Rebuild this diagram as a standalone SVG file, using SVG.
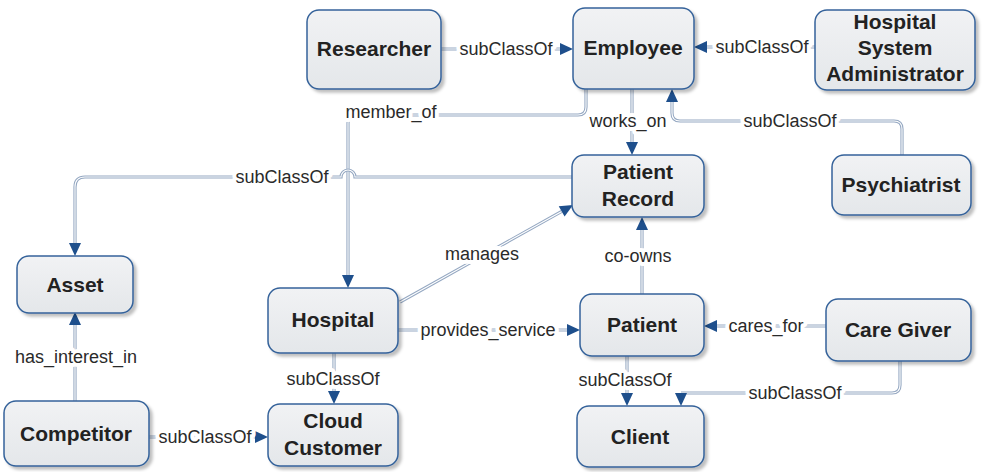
<svg xmlns="http://www.w3.org/2000/svg" xmlns:xlink="http://www.w3.org/1999/xlink" width="986" height="472" viewBox="0 0 986 472">
<defs>
<linearGradient id="g" x1="0" y1="0" x2="0" y2="1">
<stop offset="0" stop-color="#f1f2f4"/>
<stop offset="1" stop-color="#e4e7ea"/>
</linearGradient>
<filter id="sh" x="-10%" y="-10%" width="125%" height="130%">
<feDropShadow dx="3" dy="3" stdDeviation="1.5" flood-color="#000" flood-opacity="0.25"/>
</filter>
<path id="ah" d="M0,0 L-13,-6 L-13,6 Z"/>
<path id="p1" d="M441,49 H560"/>
<path id="p2" d="M815,47 H707"/>
<path id="p3" d="M902,155 V129 Q902,121 894,121 H680 Q672,121 672,113 V102"/>
<path id="p4" d="M586,89 V107 Q586,115 578,115 H356 Q348,115 348,123 V275"/>
<path id="p5" d="M632,89 V142"/>
<path id="p6" d="M572,177 H355 A7,7 0 0 0 341,177 H85 Q75,177 75,187 V243"/>
<path id="p7" d="M400,302 L561.7,211.4"/>
<path id="p8" d="M642,294 V230"/>
<path id="p9" d="M398,330 H567"/>
<path id="p10" d="M826,326 H717"/>
<path id="p11" d="M627,356 V393"/>
<path id="p12" d="M900,361 V385 Q900,393 892,393 H681"/>
<path id="p13" d="M334,353 V391"/>
<path id="p14" d="M75,401 V325"/>
<path id="p15" d="M149,437 H255"/>
</defs>
<style>
.n rect{fill:url(#g);stroke:#34629a;stroke-width:1.5;filter:url(#sh)}
.n text{font-family:"Liberation Sans",Arial,sans-serif;font-weight:bold;font-size:21px;fill:#222;text-anchor:middle}
.eo{fill:none;stroke:#95a8c2;stroke-width:3.2}
.ei{fill:none;stroke:#fff;stroke-width:1.1}
.ar{fill:#1e4f8c}
.lb{font-family:"Liberation Sans",Arial,sans-serif;font-size:18px;fill:#2a2a2a;text-anchor:middle;stroke:#fff;stroke-width:8px;paint-order:stroke;stroke-linejoin:round}
</style>
<rect width="986" height="472" fill="#fff"/>
<g id="connectors">
<use xlink:href="#p1" class="eo"/><use xlink:href="#p1" class="ei"/>
<use xlink:href="#p2" class="eo"/><use xlink:href="#p2" class="ei"/>
<use xlink:href="#p3" class="eo"/><use xlink:href="#p3" class="ei"/>
<use xlink:href="#p4" class="eo"/><use xlink:href="#p4" class="ei"/>
<use xlink:href="#p5" class="eo"/><use xlink:href="#p5" class="ei"/>
<use xlink:href="#p6" class="eo"/><use xlink:href="#p6" class="ei"/>
<use xlink:href="#p7" class="eo"/><use xlink:href="#p7" class="ei"/>
<use xlink:href="#p8" class="eo"/><use xlink:href="#p8" class="ei"/>
<use xlink:href="#p9" class="eo"/><use xlink:href="#p9" class="ei"/>
<use xlink:href="#p10" class="eo"/><use xlink:href="#p10" class="ei"/>
<use xlink:href="#p11" class="eo"/><use xlink:href="#p11" class="ei"/>
<use xlink:href="#p12" class="eo"/><use xlink:href="#p12" class="ei"/>
<use xlink:href="#p13" class="eo"/><use xlink:href="#p13" class="ei"/>
<use xlink:href="#p14" class="eo"/><use xlink:href="#p14" class="ei"/>
<use xlink:href="#p15" class="eo"/><use xlink:href="#p15" class="ei"/>
<use xlink:href="#ah" class="ar" transform="translate(573,49)"/>
<use xlink:href="#ah" class="ar" transform="translate(694,47) rotate(180)"/>
<use xlink:href="#ah" class="ar" transform="translate(672,89) rotate(-90)"/>
<use xlink:href="#ah" class="ar" transform="translate(348,288) rotate(90)"/>
<use xlink:href="#ah" class="ar" transform="translate(632,155) rotate(90)"/>
<use xlink:href="#ah" class="ar" transform="translate(75,256) rotate(90)"/>
<use xlink:href="#ah" class="ar" transform="translate(573,205) rotate(-29.3)"/>
<use xlink:href="#ah" class="ar" transform="translate(642,217) rotate(-90)"/>
<use xlink:href="#ah" class="ar" transform="translate(580,330)"/>
<use xlink:href="#ah" class="ar" transform="translate(704,326) rotate(180)"/>
<use xlink:href="#ah" class="ar" transform="translate(627,406) rotate(90)"/>
<use xlink:href="#ah" class="ar" transform="translate(681,406) rotate(90)"/>
<use xlink:href="#ah" class="ar" transform="translate(334,404) rotate(90)"/>
<use xlink:href="#ah" class="ar" transform="translate(75,312) rotate(-90)"/>
<use xlink:href="#ah" class="ar" transform="translate(268,437)"/>
<text class="lb" x="506" y="55">subClassOf</text>
<text class="lb" x="762" y="53">subClassOf</text>
<text class="lb" x="790" y="127">subClassOf</text>
<text class="lb" x="391" y="118">member_of</text>
<text class="lb" x="628" y="127">works_on</text>
<text class="lb" x="282" y="183">subClassOf</text>
<text class="lb" x="482" y="260">manages</text>
<text class="lb" x="638" y="262">co-owns</text>
<text class="lb" x="488" y="336">provides_service</text>
<text class="lb" x="766" y="332">cares_for</text>
<text class="lb" x="625" y="386">subClassOf</text>
<text class="lb" x="795" y="399">subClassOf</text>
<text class="lb" x="333" y="385">subClassOf</text>
<text class="lb" x="76" y="363">has_interest_in</text>
<text class="lb" x="205" y="443">subClassOf</text>
</g>
<g id="researcher" class="n"><rect x="307" y="10" width="134" height="79" rx="12"/><text x="374" y="56">Researcher</text></g>
<g id="employee" class="n"><rect x="573" y="8" width="121" height="81" rx="12"/><text x="633" y="55">Employee</text></g>
<g id="hsa" class="n"><rect x="815" y="10" width="160" height="80" rx="12"/><text x="895" y="29">Hospital</text><text x="895" y="55">System</text><text x="895" y="81">Administrator</text></g>
<g id="psychiatrist" class="n"><rect x="832" y="155" width="139" height="60" rx="12"/><text x="901" y="192">Psychiatrist</text></g>
<g id="patient-record" class="n"><rect x="572" y="155" width="132" height="62" rx="12"/><text x="638" y="179">Patient</text><text x="638" y="206">Record</text></g>
<g id="asset" class="n"><rect x="17" y="256" width="116" height="57" rx="12"/><text x="75" y="292">Asset</text></g>
<g id="hospital" class="n"><rect x="268" y="288" width="130" height="65" rx="12"/><text x="333" y="327">Hospital</text></g>
<g id="patient" class="n"><rect x="580" y="294" width="124" height="62" rx="12"/><text x="642" y="332">Patient</text></g>
<g id="care-giver" class="n"><rect x="826" y="299" width="145" height="62" rx="12"/><text x="898" y="337">Care Giver</text></g>
<g id="client" class="n"><rect x="577" y="406" width="127" height="61" rx="12"/><text x="640" y="444">Client</text></g>
<g id="competitor" class="n"><rect x="4" y="401" width="145" height="65" rx="12"/><text x="76" y="441">Competitor</text></g>
<g id="cloud-customer" class="n"><rect x="268" y="404" width="130" height="62" rx="12"/><text x="333" y="428">Cloud</text><text x="333" y="455">Customer</text></g>
</svg>
